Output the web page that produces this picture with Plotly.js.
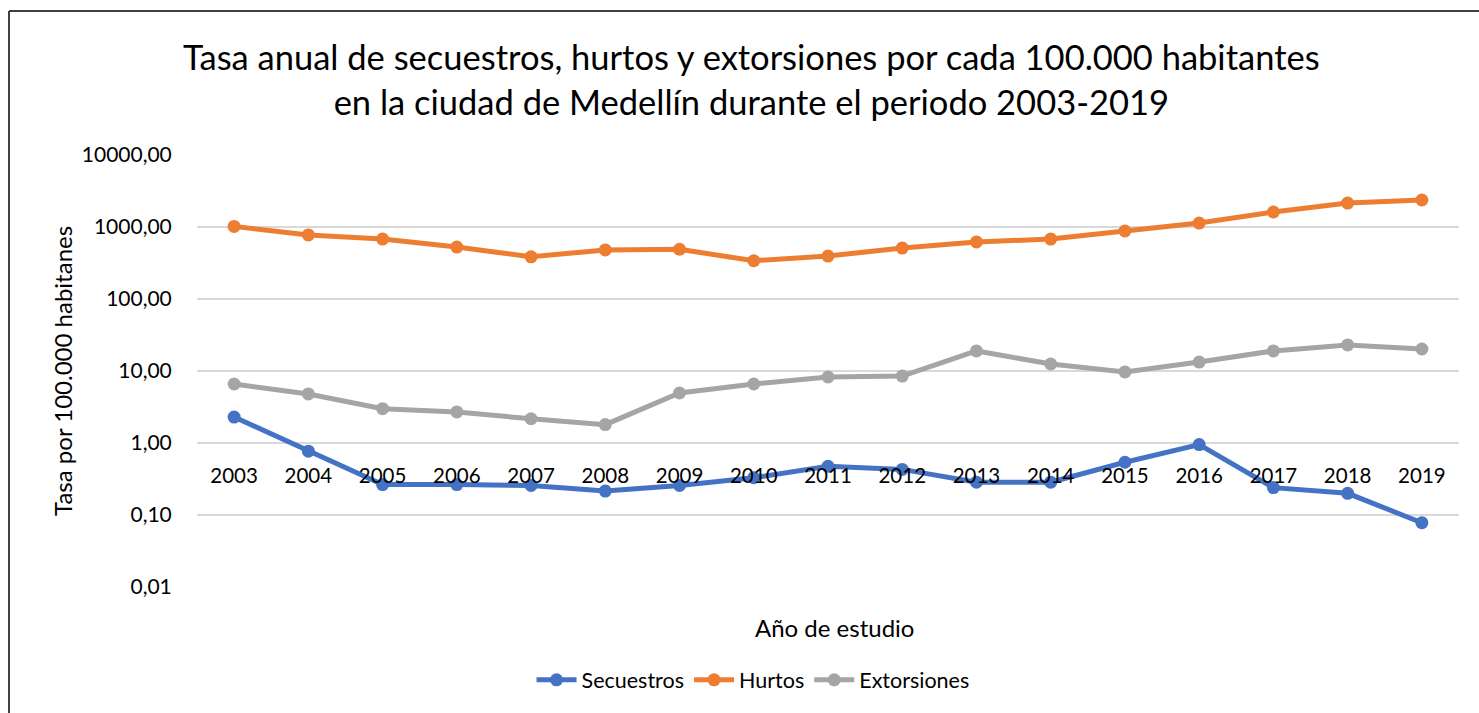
<!DOCTYPE html>
<html>
<head>
<meta charset="utf-8">
<script src="https://cdn.plot.ly/plotly-3.0.1.min.js"></script>
<style>
  html, body { margin: 0; padding: 0; background: #ffffff; }
  #chart { width: 1479px; height: 713px; }
</style>
</head>
<body>
<div id="chart"></div>
<script>
const years = ["2003","2004","2005","2006","2007","2008","2009","2010","2011","2012","2013","2014","2015","2016","2017","2018","2019"];
const secuestros = [2.29, 0.77, 0.265, 0.265, 0.257, 0.215, 0.257, 0.33, 0.475, 0.43, 0.286, 0.286, 0.54, 0.95, 0.24, 0.20, 0.078];
const hurtos = [1020, 775, 680, 527, 385, 480, 490, 340, 395, 510, 620, 680, 880, 1135, 1615, 2150, 2370];
const extorsiones = [6.6, 4.8, 3.0, 2.7, 2.17, 1.8, 4.95, 6.6, 8.25, 8.5, 19, 12.5, 9.7, 13.3, 19, 23, 20.2];
const yTickVals = [0.01, 0.1, 1, 10, 100, 1000, 10000];
const yTickText = ["0,01", "0,10", "1,00", "10,00", "100,00", "1000,00", "10000,00"];

const FONT = "Lato, 'Open Sans', sans-serif";
function series(name, y, color) {
  return {
    type: "scatter", mode: "lines+markers", name: name,
    x: years, y: y,
    line: { color: color, width: 5 },
    marker: { color: color, size: 13 }
  };
}
const data = [
  series("Secuestros", secuestros, "#4472C4"),
  series("Hurtos", hurtos, "#ED7D31"),
  series("Extorsiones", extorsiones, "#A5A5A5")
];

const layout = {
  width: 1479, height: 713,
  margin: { l: 197, r: 20, t: 155, b: 126 },
  paper_bgcolor: "#ffffff", plot_bgcolor: "#ffffff",
  font: { family: FONT, color: "#000000", size: 21 },
  title: {
    text: "Tasa anual de secuestros, hurtos y extorsiones por cada 100.000 habitantes<br>en la ciudad de Medellín durante el periodo 2003-2019",
    font: { family: FONT, size: 34.5, color: "#000000" },
    x: 0.508, xanchor: "center", xref: "container",
    y: 1 - 70/713, yanchor: "middle", yref: "container"
  },
  xaxis: {
    type: "category", range: [-0.5, 16.5],
    anchor: "free", position: 1/3,
    showgrid: false, zeroline: false, showline: false,
    ticks: "outside", ticklen: 14, tickcolor: "rgba(0,0,0,0)",
    tickfont: { family: FONT, size: 20.5, color: "#000000" },
    fixedrange: true
  },
  yaxis: {
    type: "log", range: [-2, 4],
    tickvals: yTickVals, ticktext: yTickText,
    showgrid: true, gridcolor: "#D9D9D9", gridwidth: 1.5,
    zeroline: false, showline: false,
    ticks: "outside", ticklen: 20, tickcolor: "rgba(0,0,0,0)",
    tickfont: { family: FONT, size: 21, color: "#000000" }
  },
  showlegend: true,
  legend: {
    orientation: "h", x: 0.4406, xanchor: "center", y: -0.215, yanchor: "middle",
    font: { family: FONT, size: 21.5, color: "#000000" },
    itemwidth: 40, traceorder: "normal"
  },
  annotations: [
    {
      text: "Año de estudio", xref: "paper", yref: "paper",
      x: 0.5055, y: -0.0949, xanchor: "center", yanchor: "middle",
      showarrow: false, font: { family: FONT, size: 24, color: "#000000" }
    },
    {
      text: "Tasa por 100.000 habitanes", xref: "paper", yref: "paper",
      x: (62 - 197) / 1262, y: 0.5, xanchor: "center", yanchor: "middle",
      textangle: -90, showarrow: false,
      font: { family: FONT, size: 24, color: "#000000" }
    }
  ],
  shapes: [
    { type: "line", xref: "paper", yref: "paper",
      x0: (9 - 197) / 1262, x1: (1490 - 197) / 1262,
      y0: (587 - 11) / 432, y1: (587 - 11) / 432,
      line: { color: "#404040", width: 2 } },
    { type: "line", xref: "paper", yref: "paper",
      x0: (9 - 197) / 1262, x1: (9 - 197) / 1262,
      y0: (587 - 11) / 432, y1: (587 - 730) / 432,
      line: { color: "#404040", width: 2 } }
  ]
};

Plotly.newPlot("chart", data, layout, { displayModeBar: false, staticPlot: true });
</script>
</body>
</html>
